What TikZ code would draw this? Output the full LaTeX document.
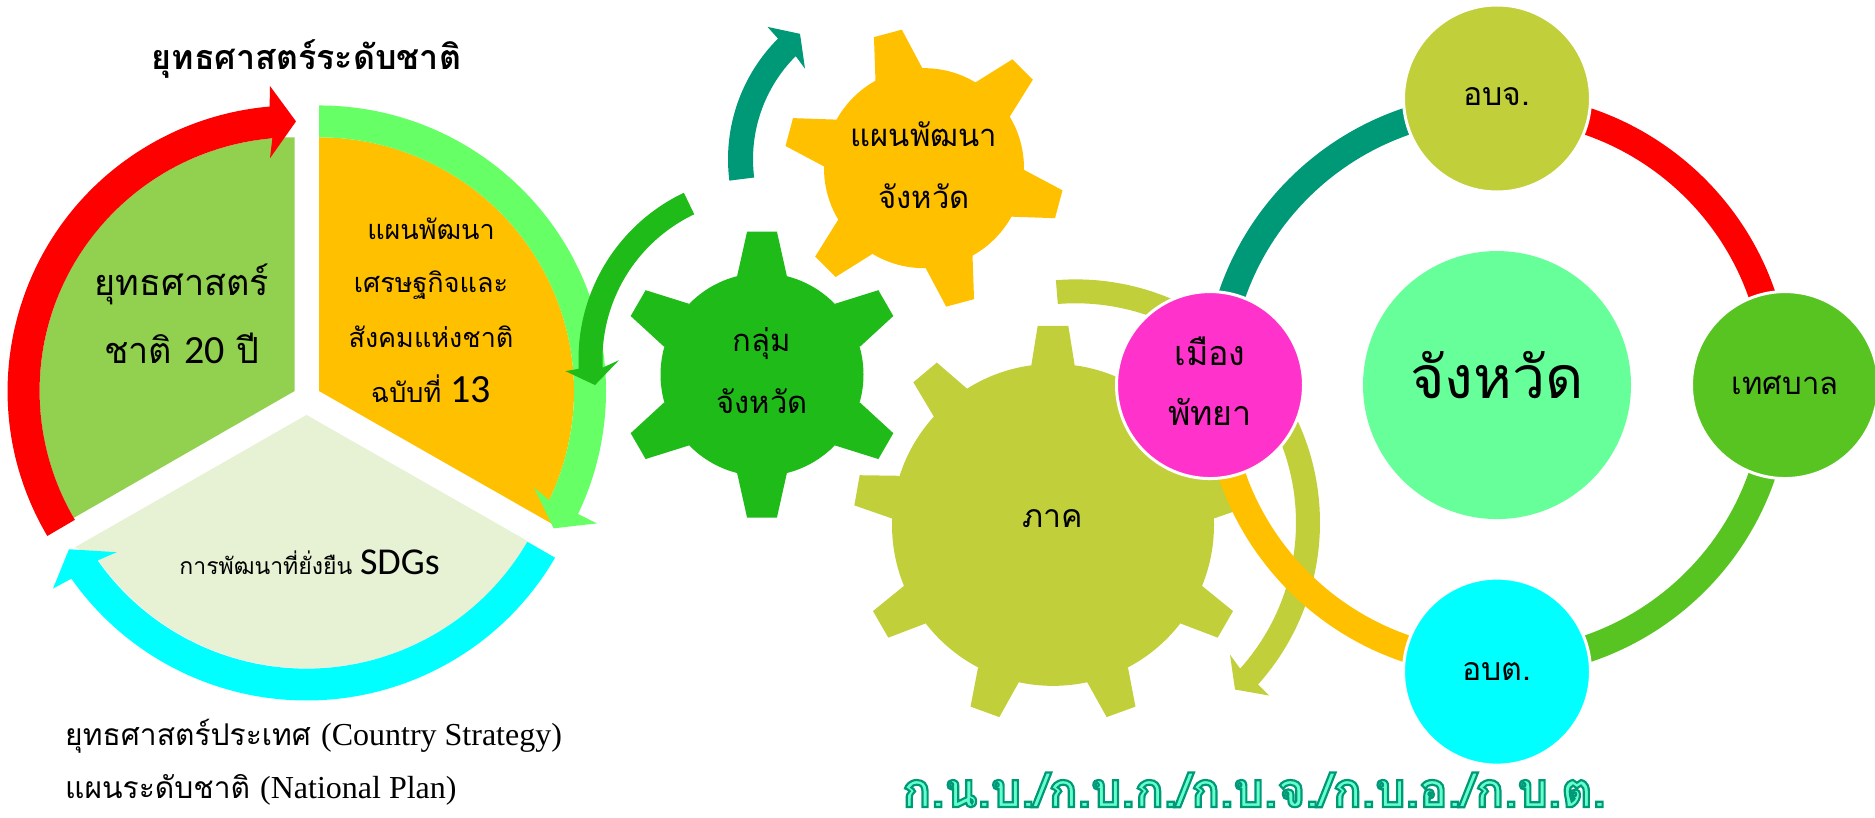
\documentclass[tikz,border=0pt]{standalone}
\usepackage{fontspec}
\usetikzlibrary{calc}
\newfontfamily\thai[Script=Thai]{Loma}
\newfontfamily\carl{Carlito}
\newfontfamily\tms{Liberation Serif}
\newfontfamily\outl[Script=Thai,BoldFont={Loma},FakeBold=4.5]{Loma Bold}
\definecolor{cGreen}{HTML}{92D050}
\definecolor{cOrange}{HTML}{FFC000}
\definecolor{cPale}{HTML}{E7F1D4}
\definecolor{cLight}{HTML}{66FF66}
\definecolor{cCyan}{HTML}{00FFFF}
\definecolor{cDark}{HTML}{1FBB19}
\definecolor{cTeal}{HTML}{009977}
\definecolor{cOlive}{HTML}{C0CF3A}
\definecolor{cPink}{HTML}{FF33CC}
\definecolor{cMint}{HTML}{66FF99}
\definecolor{cTown}{HTML}{58C422}
\definecolor{cOutFill}{HTML}{66FFCC}
\newcommand\sz[1]{\fontsize{#1}{#1}\selectfont}
% #1 colour, #2 centre, #3 start, #4 end angle, #5 outer, #6 inner radius, #7 head path
\newcommand\ringarrow[7]{\fill[#1] ($(#2)+(#3:#5)$) arc[start angle=#3,end angle=#4,radius=#5] -- #7 -- ($(#2)+(#4:#6)$) arc[start angle=#4,end angle=#3,radius=#6] -- cycle;}
% #1 colour, #2 centre, #3 angles, #4 base radius, #5 tip radius, #6 base half, #7 tip half
\newcommand\teeth[7]{\foreach \a in {#3} {\fill[#1,shift={(#2)},rotate=\a] (#4,-#6) -- (#5,-#7) -- (#5,#7) -- (#4,#6) -- cycle;}}
\tikzset{
  lbl/.style={font=\thai, align=center, inner sep=0pt, text=black},
  gearbody/.style={circle, inner sep=0pt},
  hub/.style={circle, draw=white, line width=3pt, minimum size=187pt, inner sep=0pt},
  ringarc/.style={line width=27pt}
}
\begin{document}
\begin{tikzpicture}[x=1pt,y=0.995pt]
\useasboundingbox (0pt,0pt) rectangle (1875pt,-818pt);
\coordinate (PA) at (294.6,-393);
\coordinate (PB) at (319,-393);
\coordinate (PC) at (306.5,-417);
% pie
\fill[cGreen] (PA) -- ($(PA)+(210:255)$) arc[start angle=210,end angle=90,radius=255] -- cycle;
\fill[cOrange] (PB) -- (PB|-0,-138) arc[start angle=90,end angle=-25,radius=255] -- (553,-527) -- cycle;
\fill[cPale] (PC) -- (528,-544) arc[start angle=-30,end angle=-145,radius=255] -- (75,-550) -- cycle;
% pie arrows
\ringarrow{red}{PA}{210.5}{95}{287}{255}{(270,-86.5) -- (296,-122) -- (270,-159)}
\ringarrow{cLight}{PB}{90}{-25.5}{287}{255}{(597,-526) -- (553.6,-531) -- (534,-490)}
\ringarrow{cCyan}{PC}{-30}{-145}{287}{255}{(53,-591.5) -- (69,-552) -- (116.6,-555)}
% gear arrows
\coordinate (AD) at (764,-361);
\ringarrow{cDark}{AD}{115.6}{183}{185.5}{161.5}{(565.4,-373) -- (595,-387) -- (619,-362)}
\coordinate (AT) at (900,-160);
\ringarrow{cTeal}{AT}{187.2}{135.2}{172}{147}{(767.5,-27) -- (800,-34) -- (805,-69)}
\coordinate (AO) at (1075.5,-525.3);
\ringarrow{cOlive}{AO}{94.6}{-41.7}{244.5}{220.5}{(1269,-699) -- (1235,-693) -- (1230,-658)}
% gears
\coordinate (GY) at (924,-169);
\teeth{cOrange}{GY}{45,105,165,225,285,345}{96}{139.5}{24.6}{14.5}
\node[gearbody,fill=cOrange,minimum size=200pt] (gearProv) at (GY) {};
\coordinate (GG) at (762,-376.5);
\teeth{cDark}{GG}{30,90,150,210,270,330}{98.5}{143}{25}{15}
\node[gearbody,fill=cDark,minimum size=203pt] (gearGroup) at (GG) {};
\coordinate (GO) at (1053,-527.5);
\teeth{cOlive}{GO}{90,130,170,210,250,290,330,10,50}{159.5}{199}{21.8}{15.4}
\node[gearbody,fill=cOlive,minimum size=322pt] (gearRegion) at (GO) {};
% ring
\coordinate (CP) at (1497,-387);
\coordinate (C1) at (1497,-99);
\coordinate (C2) at (1785,-387);
\coordinate (C3) at (1497,-675);
\coordinate (C4) at (1210,-387);
\draw[ringarc,red] ($(CP)+(90:280)$) arc[start angle=90,end angle=0,radius=280];
\draw[ringarc,cTown] ($(CP)+(0:280)$) arc[start angle=0,end angle=-90,radius=280];
\draw[ringarc,cOrange] ($(CP)+(-90:280)$) arc[start angle=-90,end angle=-180,radius=280];
\draw[ringarc,cTeal] ($(CP)+(180:280)$) arc[start angle=180,end angle=90,radius=280];
\node[gearbody,fill=cMint,minimum size=268pt] (prov) at (CP) {};
\node[hub,fill=cOlive] (pao) at (C1) {};
\node[hub,fill=cTown] (muni) at (C2) {};
\node[hub,fill=cCyan] (sao) at (C3) {};
\node[hub,fill=cPink] (pattaya) at (C4) {};
% labels
\node[lbl,font=\thai\sz{31}] (tGearProv) at (924,-166) {แผนพัฒนา\\[31pt]จังหวัด};
\node[lbl,font=\thai\sz{31}] (tGearGroup) at (762,-372.5) {กลุ่ม\\[29pt]จังหวัด};
\node[lbl,font=\thai\sz{32}] (tRegion) at (1053,-521.5) {ภาค};
\node[lbl,font=\thai\sz{59}] (tProv) at (1497,-377) {จังหวัด};
\node[lbl,font=\thai\sz{32}] (tPao) at (1497,-97) {อบจ.};
\node[lbl,font=\thai\sz{31}] (tMuni) at (1785,-387) {เทศบาล};
\node[lbl,font=\thai\sz{32}] (tSao) at (1497,-675) {อบต.};
\node[lbl,font=\thai\sz{34}] (tPattaya) at (1210,-383) {เมือง\\[26pt]พัทยา};
\node[lbl,font=\thai\bfseries\sz{34}] (title) at (306.5,-59) {ยุทธศาสตร์ระดับชาติ};
\node[lbl,font=\thai\sz{36}] (s20) at (182,-315) {ยุทธศาสตร์\\[27pt]ชาติ {\carl\sz{40}20} ปี};
\node[lbl,font=\thai\sz{27}] (nesdp) at (431,-312) {แผนพัฒนา\\[26pt]เศรษฐกิจและ\\[26pt]สังคมแห่งชาติ\\[26pt]ฉบับที่ {\carl\sz{40}13}};
\node[lbl,font=\thai\sz{23}] (sdg) at (309.6,-565) {การพัฒนาที่ยั่งยืน {\carl\sz{38}SDGs}};
\node[lbl,anchor=west,font=\thai\sz{30}] (cs) at (65,-740) {ยุทธศาสตร์ประเทศ {\tms\sz{32}(Country Strategy)}};
\node[lbl,anchor=west,font=\thai\sz{30}] (np) at (65,-794) {แผนระดับชาติ {\tms\sz{32}(National Plan)}};
\node[lbl,anchor=base,font=\outl\sz{48},text=cOutFill] (bot) at (1254,-811) {\special{pdf:code 0 0.6 0.47 RG}ก.น.บ./ก.บ.ก./ก.บ.จ./ก.บ.อ./ก.บ.ต.};
\end{tikzpicture}
\end{document}
